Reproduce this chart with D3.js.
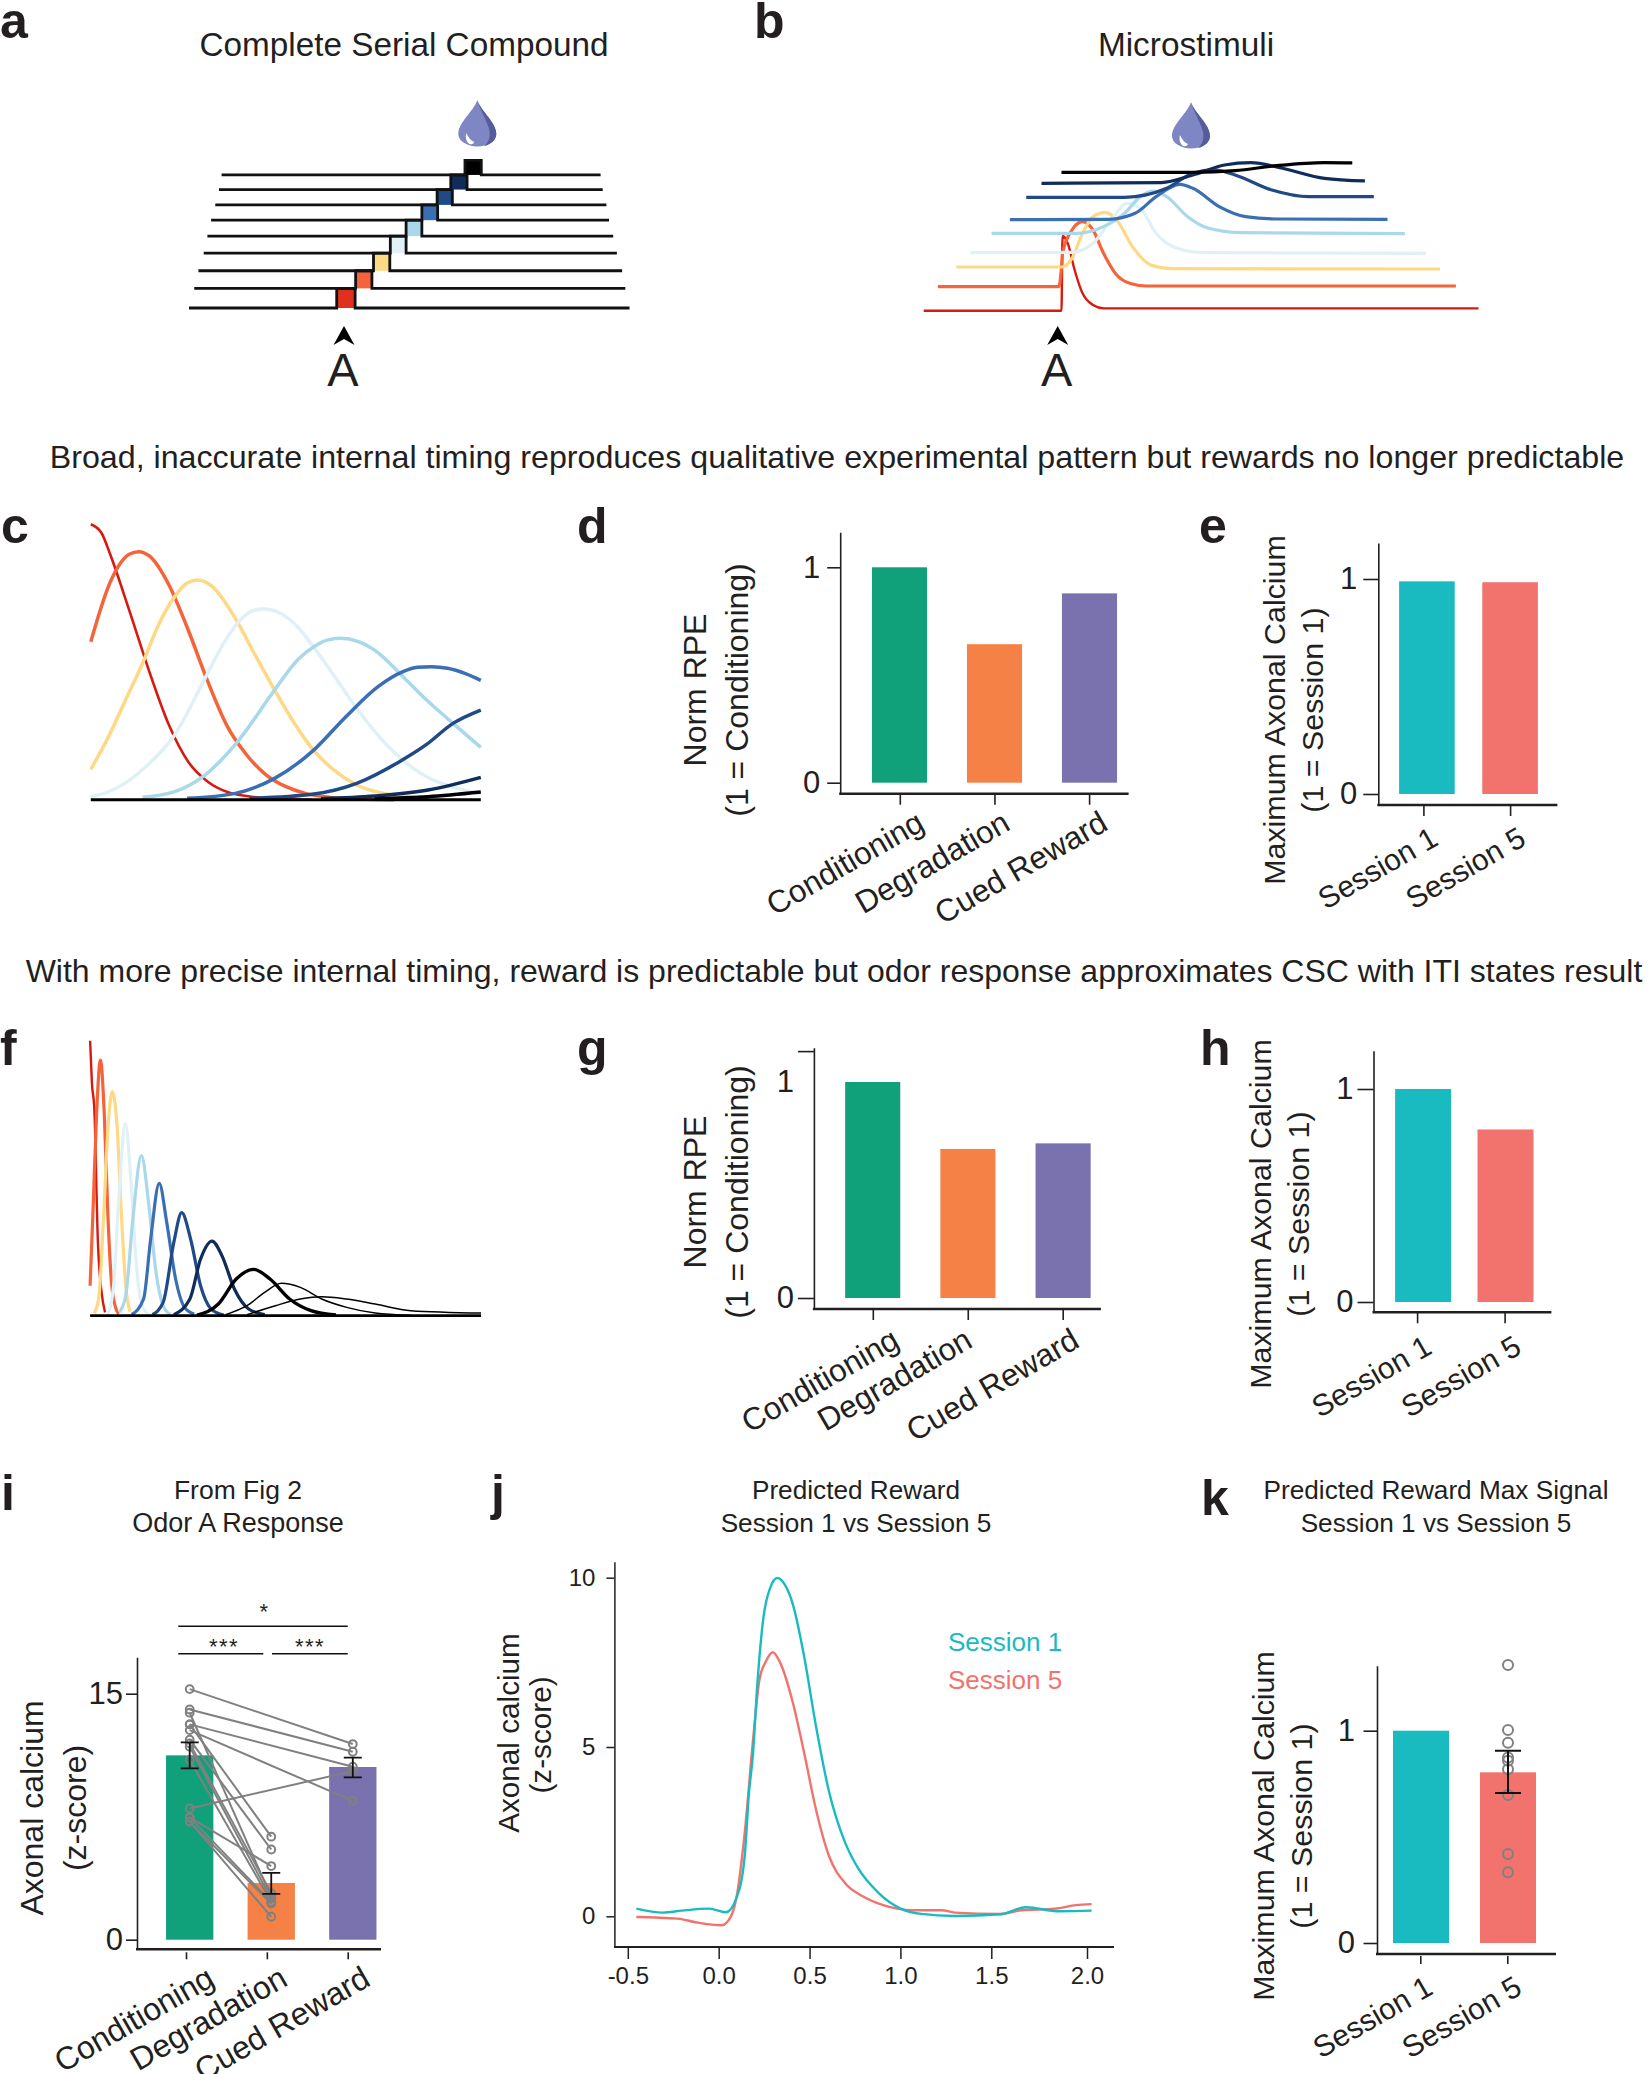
<!DOCTYPE html>
<html>
<head>
<meta charset="utf-8">
<script src="https://cdn.jsdelivr.net/npm/d3@7"></script>
<style>
html, body { margin: 0; padding: 0; background: #fff; }
text { font-family: "Liberation Sans", Arial, sans-serif; fill: #231f20; }
</style>
</head>
<body>
<svg id="main" width="1650" height="2074"></svg>
<script>
var stimColors = ["#d7190f", "#f4633a", "#fdd985", "#dff1f6", "#a8d8ea", "#3b6fb3", "#1f4a85", "#0f2c5a", "#000000"];
var green = "#10a07a", orange = "#f58146", purple = "#7a72ae", teal = "#19bbc0", salmon = "#f2726d", gray = "#808080";

var tasks = ["Conditioning", "Degradation", "Cued Reward"];
var sessions = ["Session 1", "Session 5"];

// bar heights, panels d e g h i k
var dValues = [1, 0.643, 0.879];
var eValues = [0.989, 0.985];
var gValues = [1, 0.69, 0.716];
var hValues = [1, 0.81];
var iValues = [11.24, 3.46, 10.53];
var kValues = [1, 0.804];

// panel i: paired animals
var iCondToCued = [[15.28, 11.93], [14.04, 11.46], [13.13, 10.55], [12.78, 8.46], [8.0, 10.28]];
var iCondToDeg = [[13.84, 2.6], [13.13, 6.28], [12.2, 5.5], [11.97, 2.83], [11.77, 2.5], [10.96, 2.3], [7.46, 4.49], [7.46, 2.3], [7.2, 2.2], [7.2, 1.4]];
var iErrors = [[10.45, 12.03], [2.8, 4.07], [9.9, 11.1]];

// panel k
var kPoints = [1.309, 1.003, 0.943, 0.874, 0.859, 0.818, 0.697, 0.419, 0.333];
var kError = [0.706, 0.906];

// panel a: states of the complete serial compound, schematic units
var cscLeft = [0, 10, 18, 28, 35, 42, 50, 57, 62];
var cscRight = [838, 830, 824, 814, 807, 799, 794, 787, 783];
var cscOnset = [281, 317, 351, 383, 413, 443, 472, 498, 525];
var cscOffset = [316, 348, 382, 413, 443, 473, 501, 529, 556];
var cscBase = [0, 59, 112, 165, 216, 264, 310, 356, 400];
var cscTop = [59, 112, 165, 216, 264, 310, 356, 400, 444];

// panel b: microstimuli stacked in depth, [time, height]
var bCurves = [
	[[0,0],[262,0],[264,224],[274,202],[287,122],[302,52],[322,17],[342,7],[1055,7]],
	[[27,72],[257,72],[262,130],[264,172],[282,242],[302,267],[322,242],[342,172],[367,107],[392,82],[422,74],[1012,74]],
	[[62,131],[262,131],[282,157],[302,232],[322,282],[345,295],[367,272],[397,192],[432,137],[472,126],[982,125]],
	[[89,174],[282,175],[322,202],[352,262],[387,322],[412,307],[442,232],[482,187],[532,174],[955,172]],
	[[129,232],[292,232],[342,252],[382,292],[412,342],[437,359],[462,342],[502,282],[542,247],[602,234],[915,231]],
	[[164,273],[352,274],[402,292],[442,342],[487,379],[512,367],[562,312],[612,282],[672,275],[882,274]],
	[[195,340],[382,340],[462,367],[512,412],[552,422],[592,407],[662,362],[732,342],[856,342]],
	[[224,382],[452,384],[512,407],[572,437],[622,444],[682,427],[762,397],[839,389]],
	[[262,415],[512,415],[592,420],[672,435],[762,444],[815,443]]
];

// panel c: broad basis functions
var cCurves = [
	[[0,826],[30,800],[55,734],[109,564],[164,384],[219,224],[273,114],[328,54],[383,23],[437,11],[492,4],[547,1],[620,0]],
	[[0,474],[55,654],[109,737],[135,744],[164,731],[219,644],[273,509],[328,354],[383,219],[437,134],[492,74],[547,39],[601,19],[656,9],[711,3],[765,1],[850,0]],
	[[0,91],[50,190],[100,305],[145,409],[190,525],[235,609],[270,650],[300,659],[340,640],[405,544],[460,435],[515,329],[570,230],[620,154],[680,90],[745,44],[845,14],[950,3]],
	[[0,9],[50,24],[95,49],[150,95],[235,194],[320,364],[370,465],[415,534],[450,565],[485,572],[530,560],[580,518],[620,464],[680,375],[735,289],[825,169],[925,79],[1045,29],[1093,18]],
	[[145,7],[235,24],[320,74],[415,179],[515,329],[580,420],[625,459],[660,478],[700,484],[750,474],[800,445],[875,369],[945,295],[1015,229],[1093,157]],
	[[270,4],[405,19],[515,64],[620,144],[715,249],[805,339],[875,384],[915,397],[955,399],[1000,394],[1050,378],[1093,358]],
	[[445,4],[625,17],[745,49],[865,114],[940,165],[1015,229],[1093,269]],
	[[645,3],[795,11],[945,29],[1093,67]],
	[[795,3],[945,9],[1093,23]]
];

// panel f: narrow basis functions
var fCurves = [
	[[0,825],[5,700],[12,617],[22,217],[32,72],[42,10]],
	[[0,90],[8,310],[18,600],[29,767],[40,600],[50,300],[60,100],[70,30],[80,5]],
	[[12,7],[25,60],[38,300],[50,560],[62,672],[75,580],[88,300],[100,90],[112,12]],
	[[50,5],[65,80],[80,340],[99,575],[115,400],[130,150],[150,20],[170,0]],
	[[82,10],[100,60],[120,290],[144,480],[165,330],[185,130],[205,30],[225,3]],
	[[117,3],[150,50],[170,230],[194,397],[215,280],[240,110],[265,25],[292,5]],
	[[175,3],[205,40],[235,220],[257,309],[282,230],[310,90],[340,20],[375,2]],
	[[235,3],[280,50],[310,170],[342,224],[370,180],[405,80],[445,20],[490,3]],
	[[300,2],[360,35],[410,110],[459,139],[505,110],[560,50],[620,15],[690,2]]
];
var fThin = [
	[[380,3],[440,30],[490,70],[537,97],[590,85],[650,50],[720,25],[800,8],[900,1]],
	[[440,3],[520,30],[590,50],[650,57],[720,50],[800,35],[900,15],[1097,8]]
];

// panel j: mean traces, [seconds, z-score]
var jSession1 = [[-0.453,0.226],[-0.307,0.108],[-0.203,0.167],[-0.053,0.226],[0.039,0.118],[0.097,0.531],[0.143,1.76],[0.166,3.6],[0.189,4.81],[0.212,6.8],[0.247,8.85],[0.282,9.68],[0.323,9.99],[0.363,9.8],[0.409,9.2],[0.467,7.77],[0.536,5.6],[0.605,3.73],[0.697,2.16],[0.767,1.42],[0.882,0.68],[0.998,0.236],[1.113,0.07],[1.298,0.01],[1.548,0.06],[1.68,0.266],[1.855,0.148],[2.024,0.167]];
var jSession5 = [[-0.453,-0.02],[-0.226,-0.07],[-0.134,-0.167],[0.016,-0.266],[0.067,-0.01],[0.097,0.53],[0.143,2.45],[0.189,5.2],[0.224,6.98],[0.259,7.52],[0.298,7.8],[0.34,7.47],[0.409,6.29],[0.467,4.91],[0.536,3.14],[0.605,1.81],[0.697,0.97],[0.79,0.6],[0.905,0.33],[1.067,0.18],[1.229,0.18],[1.298,0.11],[1.548,0.07],[1.658,0.18],[1.833,0.226],[1.943,0.33],[2.024,0.36]];
var jXTicks = [-0.5, 0, 0.5, 1, 1.5, 2];

var svg = d3.select("#main");

var addText = function(s, x, y, size, opts) {
	opts = opts || {};
	return svg.append("text")
		.attr("x", x).attr("y", y)
		.attr("font-size", size)
		.attr("text-anchor", opts.anchor || "middle")
		.attr("font-weight", opts.weight || null)
		.style("fill", opts.fill || null)
		.text(s);
};

var vertText = function(s, x, y, size) {
	svg.append("text")
		.attr("transform", "translate(" + x + "," + y + ") rotate(-90)")
		.attr("font-size", size)
		.attr("text-anchor", "middle")
		.attr("dy", "0.35em")
		.text(s);
};

var drop = function(cx, top) {
	var g = svg.append("g").attr("transform", "translate(" + cx + "," + top + ")");
	g.append("path").attr("d", "M0,0 C4,12 19,22 19,34 A19,12.5 0 0 1 -19,34 C-19,22 -4,12 0,0 Z").attr("fill", "#7e86c4");
	g.append("path").attr("d", "M0,0 C4,12 19,22 19,34 C19,40 13,45 7,46 C13,41 14,33 10,24 C7,16 2,8 0,0 Z").attr("fill", "#565c9a");
	g.append("path").attr("d", "M-11,33 Q-8,40 -3,42 Q-4,45 -8,44 Q-13,40 -11,33 Z").attr("fill", "#fff");
};

var cue = function(cx) {
	svg.append("path")
		.attr("d", "M" + cx + ",326 L" + (cx + 10.5) + ",345 L" + cx + ",339 L" + (cx - 10.5) + ",345 Z")
		.attr("fill", "#000");
	addText("A", cx - 1, 386, 47);
};

var drawCurves = function(curves, x, y, widths) {
	var line = d3.line().x(function(d){ return x(d[0]); }).y(function(d){ return y(d[1]); }).curve(d3.curveMonotoneX);
	svg.append("g").selectAll("path").data(curves).enter().append("path")
		.attr("d", line)
		.attr("fill", "none")
		.attr("stroke", function(d, i){ return stimColors[i]; })
		.attr("stroke-width", function(d, i){ return widths[i]; });
};

// shared layout for the bar panels
var barPanel = function(c) {
	var y = d3.scaleLinear().domain([0, 1]).range([c.y0, c.y1]);
	if (c.unit) y.domain([0, c.unit]);
	y.domain([y.invert(c.axisBottom), y.invert(c.axisTop)]).range([c.axisBottom, c.axisTop]);
	var barX = d3.scalePoint().domain(c.names).range(c.barRange);
	var tickX = d3.scalePoint().domain(c.names).range(c.tickRange);

	svg.append("g").selectAll("rect").data(c.values).enter().append("rect")
		.attr("x", function(d, i){ return barX(c.names[i]) - c.barWidth / 2; })
		.attr("width", c.barWidth)
		.attr("y", function(d){ return y(d); })
		.attr("height", function(d){ return y(0) - y(d); })
		.attr("fill", function(d, i){ return c.colors[i]; });

	var left = svg.append("g").attr("transform", "translate(" + c.axisX + ",0)")
		.call(d3.axisLeft(y).tickValues(c.ticks || c.labels).tickFormat("").tickSize(c.tickLen).tickSizeOuter(0));
	left.selectAll("path,line").attr("stroke", "#231f20").attr("stroke-width", 1.6);
	var lab = svg.append("g").attr("transform", "translate(" + c.axisX + ",0)")
		.call(d3.axisLeft(y).tickValues(c.labels).tickFormat(d3.format("d")).tickSize(0).tickPadding(c.labelPad));
	lab.select(".domain").remove();
	lab.selectAll("text").attr("font-size", c.labelSize || 31).style("fill", "#231f20").attr("font-family", null);

	var bottom = svg.append("g").attr("transform", "translate(0," + c.axisBottom + ")")
		.call(d3.axisBottom(tickX).tickSize(c.xTickLen || 11).tickFormat(function(d){ return d; }));
	bottom.select(".domain").remove();
	bottom.selectAll("line").attr("stroke", "#231f20").attr("stroke-width", 1.6).attr("y1", c.tickGap || 0);
	bottom.selectAll("text")
		.attr("font-size", c.xLabelSize || 30)
		.attr("font-family", null)
		.attr("text-anchor", "end")
		.style("fill", "#231f20")
		.attr("x", 0).attr("y", 0).attr("dy", 0)
		.attr("transform", function(d, i){ return "translate(" + c.labelDx[i] + "," + c.labelDy + ") rotate(-30)"; });

	svg.append("line")
		.attr("x1", c.axisX - 1).attr("x2", c.axisRight)
		.attr("y1", c.axisBottom).attr("y2", c.axisBottom)
		.attr("stroke", "#231f20").attr("stroke-width", 2.6);

	vertText(c.yTitle[0], c.titleX[0], c.titleY, c.titleSize);
	vertText(c.yTitle[1], c.titleX[1], c.titleY, c.titleSize);
	return { y: y, x: barX };
};

// panel letters
[["a",0,38],["b",754,38],["c",1,543],["d",577,543],["e",1199,543],["f",0,1065],["g",577,1065],["h",1200,1065],["i",1,1510],["j",491,1510],["k",1201,1515]].forEach(function(p){
	addText(p[0], p[1], p[2], 50, { anchor: "start", weight: "bold" });
});

addText("Complete Serial Compound", 404, 56, 33.3);
addText("Microstimuli", 1186, 56, 33.4);
addText("Broad, inaccurate internal timing reproduces qualitative experimental pattern but rewards no longer predictable", 837, 468, 32.2);
addText("With more precise internal timing, reward is predictable but odor response approximates CSC with ITI states result", 834, 982, 32);

// a
drop(477.3, 100);
cue(344);
var ax = d3.scaleLinear().domain([0, 838]).range([189, 629.5]);
var ay = d3.scaleLinear().domain([0, 444]).range([308, 160.3]);
cscOnset.forEach(function(on, i){
	svg.append("rect")
		.attr("x", ax(on)).attr("width", ax(cscOffset[i]) - ax(on))
		.attr("y", ay(cscTop[i])).attr("height", ay(cscBase[i]) - ay(cscTop[i]))
		.attr("fill", stimColors[i] == "#d7190f" ? "#e0301f" : stimColors[i]);
	svg.append("path")
		.attr("d", d3.line()([
			[ax(cscLeft[i]), ay(cscBase[i])], [ax(on), ay(cscBase[i])], [ax(on), ay(cscTop[i])],
			[ax(cscOffset[i]), ay(cscTop[i])], [ax(cscOffset[i]), ay(cscBase[i])], [ax(cscRight[i]), ay(cscBase[i])]
		]))
		.attr("fill", "none").attr("stroke", "#111").attr("stroke-width", 2.8);
});

// b
drop(1191, 102);
cue(1057.7);
var bx = d3.scaleLinear().domain([0, 1055]).range([923.7, 1478.5]);
var by = d3.scaleLinear().domain([0, 445]).range([310.7, 162.3]);
drawCurves(bCurves, bx, by, [2.4, 3.2, 3.2, 3.2, 3.2, 3.2, 3.2, 3.2, 3.2]);

// c
var cx = d3.scaleLinear().domain([0, 1093]).range([90.8, 480.8]);
var cy = d3.scaleLinear().domain([0, 826]).range([799.7, 524.3]);
drawCurves(cCurves, cx, cy, [2.6, 3.5, 3.5, 3.5, 3.5, 3.5, 3.5, 3.5, 3.5]);
svg.append("line").attr("x1", cx(0)).attr("x2", cx(1093)).attr("y1", cy(0)).attr("y2", cy(0)).attr("stroke", "#000").attr("stroke-width", 3);

// f
var fx = d3.scaleLinear().domain([0, 1097]).range([90.1, 481]);
var fy = d3.scaleLinear().domain([0, 825]).range([1315.7, 1040.7]);
drawCurves(fCurves, fx, fy, [2.4, 3.2, 3.2, 3.2, 3.2, 3.2, 3.2, 3.2, 3.4]);
var fLine = d3.line().x(function(d){ return fx(d[0]); }).y(function(d){ return fy(d[1]); }).curve(d3.curveMonotoneX);
svg.append("g").selectAll("path").data(fThin).enter().append("path")
	.attr("d", fLine).attr("fill", "none").attr("stroke", "#000").attr("stroke-width", 1.5);
svg.append("line").attr("x1", fx(0)).attr("x2", fx(1097)).attr("y1", fy(0)).attr("y2", fy(0)).attr("stroke", "#000").attr("stroke-width", 2.8);

// d
barPanel({ names: tasks, values: dValues, colors: [green, orange, purple], labels: [0, 1],
	y0: 782.7, y1: 567.3, axisBottom: 793.7, axisTop: 532.3, axisX: 840.2, axisRight: 1128.6,
	barRange: [899.5, 1089.5], tickRange: [899.8, 1089.1], barWidth: 55.1, tickLen: 13, labelPad: 20,
	xLabelSize: 31.5, labelDx: [26, 17, 20], labelDy: 35, yTitle: ["Norm RPE", "(1 = Conditioning)"], titleX: [695, 736.6], titleY: 690, titleSize: 32 });

// e
barPanel({ names: sessions, values: eValues, colors: [teal, salmon], labels: [0, 1],
	y0: 794, y1: 579, axisBottom: 805, axisTop: 543, axisX: 1378.3, axisRight: 1557.4,
	barRange: [1426.9, 1510.1], tickRange: [1423.4, 1510.1], barWidth: 55.6, tickLen: 15, labelPad: 21,
	labelDx: [16, 17], labelDy: 39, yTitle: ["Maximum Axonal Calcium", "(1 = Session 1)"], titleX: [1274.5, 1312.7], titleY: 710, titleSize: 30.4 });

// g: the upper tick sits above the labelled 1, as drawn in the figure
barPanel({ names: tasks, values: gValues, colors: [green, orange, purple], labels: [0, 1], ticks: [0, 1.143],
	y0: 1298, y1: 1082, axisBottom: 1309, axisTop: 1047.7, axisX: 813.9, axisRight: 1100.9,
	barRange: [872.7, 1063.1], tickRange: [872.8, 1062.7], barWidth: 55.1, tickLen: 16, labelPad: 20,
	xLabelSize: 31.5, labelDx: [28, 6, 18], labelDy: 37, yTitle: ["Norm RPE", "(1 = Conditioning)"], titleX: [695, 736.6], titleY: 1192, titleSize: 32 });

// h
barPanel({ names: sessions, values: hValues, colors: [teal, salmon], labels: [0, 1],
	y0: 1302, y1: 1089, axisBottom: 1312.3, axisTop: 1050.7, axisX: 1373.5, axisRight: 1551.4,
	barRange: [1423.1, 1505.5], tickRange: [1417.1, 1504.6], barWidth: 56, tickLen: 16, labelPad: 20,
	labelDx: [16, 18], labelDy: 40, yTitle: ["Maximum Axonal Calcium", "(1 = Session 1)"], titleX: [1260.6, 1298.3], titleY: 1214, titleSize: 30.4 });

// i
var ip = barPanel({ names: tasks, values: iValues, colors: [green, orange, purple], labels: [0, 15], unit: 15,
	y0: 1939.7, y1: 1693.7, axisBottom: 1949.3, axisTop: 1657.3, axisX: 137, axisRight: 381,
	barRange: [189.7, 352.8], tickRange: [186, 347.7], barWidth: 47.3, tickLen: 11, labelPad: 14, xTickLen: 10, tickGap: 3,
	xLabelSize: 32, labelDx: [30, 22, 24], labelDy: 35, yTitle: ["Axonal calcium", "(z-score)"], titleX: [32, 75], titleY: 1808, titleSize: 32 });

var pairLines = function(pairs, a, b) {
	pairs.forEach(function(p){
		var xa = ip.x(tasks[a]), xb = ip.x(tasks[b]);
		svg.append("line")
			.attr("x1", xa).attr("y1", ip.y(p[0]))
			.attr("x2", xb).attr("y2", ip.y(p[1]))
			.attr("stroke", gray).attr("stroke-width", 2);
		[[xa, p[0]], [xb, p[1]]].forEach(function(q){
			svg.append("circle").attr("cx", q[0]).attr("cy", ip.y(q[1])).attr("r", 3.9)
				.attr("fill", "none").attr("stroke", gray).attr("stroke-width", 2);
		});
	});
};
pairLines(iCondToDeg, 0, 1);
pairLines(iCondToCued, 0, 2);
iErrors.forEach(function(e, i){
	var xm = ip.x(tasks[i]);
	svg.append("path")
		.attr("d", "M" + (xm - 9) + "," + ip.y(e[0]) + "H" + (xm + 9) + "M" + (xm - 9) + "," + ip.y(e[1]) + "H" + (xm + 9) + "M" + xm + "," + ip.y(e[0]) + "V" + ip.y(e[1]))
		.attr("fill", "none").attr("stroke", "#111").attr("stroke-width", 1.8);
});
[[178.3, 347.7, 1626.3], [178.3, 263.3, 1653.7], [272, 347.7, 1653.7]].forEach(function(b){
	svg.append("line").attr("x1", b[0]).attr("x2", b[1]).attr("y1", b[2]).attr("y2", b[2]).attr("stroke", "#111").attr("stroke-width", 1.4);
});
addText("*", 263.7, 1619, 22);
addText("***", 224, 1654, 22).attr("letter-spacing", 1.5);
addText("***", 310, 1654, 22).attr("letter-spacing", 1.5);
addText("From Fig 2", 238, 1499, 26.5);
addText("Odor A Response", 238, 1532, 27);

// j
var jx = d3.scaleLinear().domain([-0.5, 1.5, 2]).range([627.8, 991.3, 1087]);
var jy = d3.scaleLinear().domain([0, 10]).range([1916.3, 1577.7]);
jy.domain([jy.invert(1947), jy.invert(1561.7)]).range([1947, 1561.7]);
var jLeft = svg.append("g").attr("transform", "translate(614.4,0)")
	.call(d3.axisLeft(jy).tickValues([0, 5, 10]).tickFormat(d3.format("d")).tickSize(8).tickSizeOuter(0).tickPadding(11));
var jBottom = svg.append("g").attr("transform", "translate(0,1947)")
	.call(d3.axisBottom(jx).tickValues(jXTicks).tickFormat(function(d){ return d3.format(".1f")(d).replace("\u2212", "-"); }).tickSize(12).tickPadding(8));
jBottom.select(".domain").remove();
jLeft.selectAll("path,line").attr("stroke", "#231f20").attr("stroke-width", 1.5);
jBottom.selectAll("line").attr("stroke", "#231f20").attr("stroke-width", 1.5);
jLeft.selectAll("text").attr("font-size", 24).attr("font-family", null).style("fill", "#231f20");
jBottom.selectAll("text").attr("font-size", 24).attr("font-family", null).style("fill", "#231f20");
svg.append("line").attr("x1", 614).attr("x2", 1114).attr("y1", 1947).attr("y2", 1947).attr("stroke", "#231f20").attr("stroke-width", 1.8);
var jLine = d3.line().x(function(d){ return jx(d[0]); }).y(function(d){ return jy(d[1]); }).curve(d3.curveMonotoneX);
svg.append("path").datum(jSession5).attr("d", jLine).attr("fill", "none").attr("stroke", salmon).attr("stroke-width", 2.4);
svg.append("path").datum(jSession1).attr("d", jLine).attr("fill", "none").attr("stroke", teal).attr("stroke-width", 2.4);
addText("Session 1", 1005, 1651, 26, { fill: teal });
addText("Session 5", 1005, 1689, 26, { fill: salmon });
vertText("Axonal calcium", 508.8, 1733, 29.7);
vertText("(z-score)", 540.5, 1735, 29.7);
addText("Predicted Reward", 856, 1499, 26.2);
addText("Session 1 vs Session 5", 856, 1532, 26.2);

// k
var kp = barPanel({ names: sessions, values: kValues, colors: [teal, salmon], labels: [0, 1],
	y0: 1943, y1: 1730.7, axisBottom: 1954, axisTop: 1665.7, axisX: 1377, axisRight: 1556,
	barRange: [1421, 1508], tickRange: [1420.3, 1507.3], barWidth: 56, tickLen: 13.5, labelPad: 22, xTickLen: 10, tickGap: 2,
	labelDx: [14, 16], labelDy: 39, yTitle: ["Maximum Axonal Calcium", "(1 = Session 1)"], titleX: [1263, 1301], titleY: 1826, titleSize: 30.4 });
svg.append("g").selectAll("circle").data(kPoints).enter().append("circle")
	.attr("cx", kp.x(sessions[1])).attr("cy", function(d){ return kp.y(d); }).attr("r", 5)
	.attr("fill", "none").attr("stroke", gray).attr("stroke-width", 2);
svg.append("path")
	.attr("d", "M" + (kp.x(sessions[1]) - 13) + "," + kp.y(kError[0]) + "h26M" + (kp.x(sessions[1]) - 13) + "," + kp.y(kError[1]) + "h26M" + kp.x(sessions[1]) + "," + kp.y(kError[0]) + "V" + kp.y(kError[1]))
	.attr("fill", "none").attr("stroke", "#111").attr("stroke-width", 2);
addText("Predicted Reward Max Signal", 1436, 1499, 26.2);
addText("Session 1 vs Session 5", 1436, 1532, 26.2);
</script>
</body>
</html>
